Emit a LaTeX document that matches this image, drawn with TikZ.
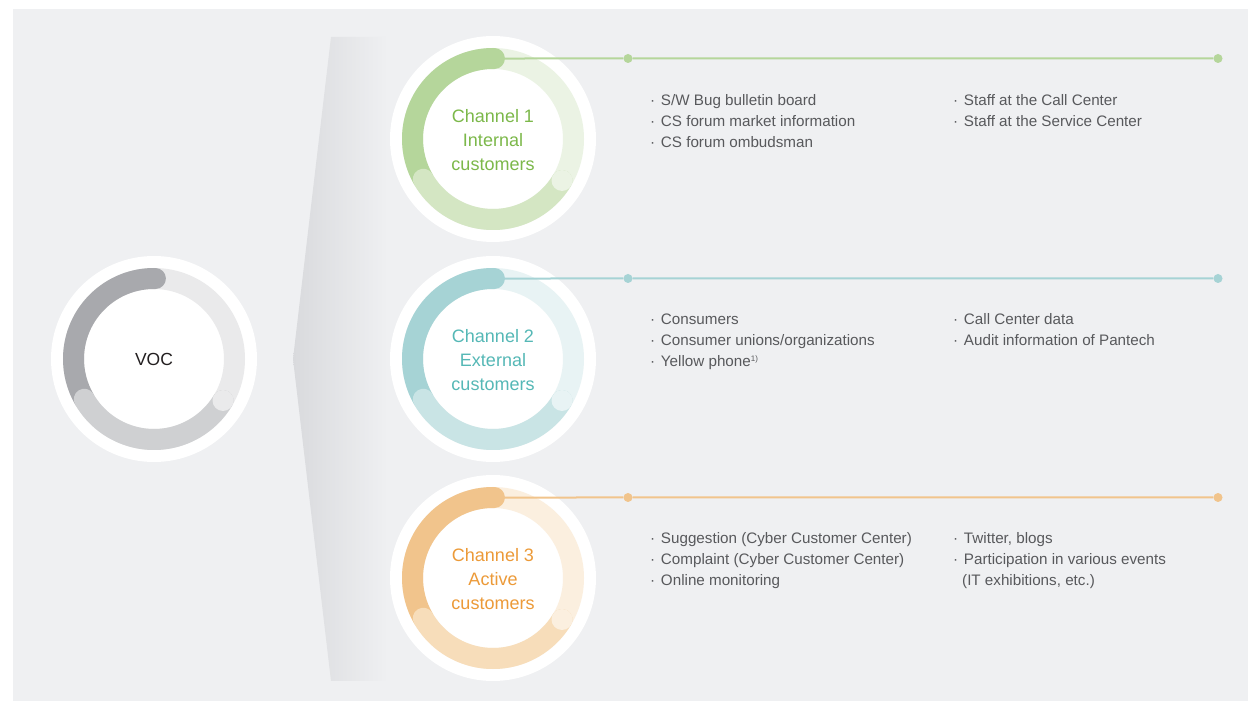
\documentclass[tikz,border=0pt]{standalone}
\usepackage{fontspec}
\setmainfont{Liberation Sans}
\usetikzlibrary{calc}

% palette
\definecolor{pagebg}{HTML}{EFF0F2}
\definecolor{wedgedark}{HTML}{D9DADD}
\definecolor{bodytext}{HTML}{58595C}
\definecolor{voctext}{HTML}{231F20}
\definecolor{vocA}{HTML}{A8A9AD}
\definecolor{vocB}{HTML}{CFD0D2}
\definecolor{vocC}{HTML}{EAEAEB}
\definecolor{grnA}{HTML}{B5D69B}
\definecolor{grnB}{HTML}{D4E6C3}
\definecolor{grnC}{HTML}{EBF3E4}
\definecolor{grnT}{HTML}{7CB84A}
\definecolor{teaA}{HTML}{A6D3D5}
\definecolor{teaB}{HTML}{C9E4E5}
\definecolor{teaC}{HTML}{E8F3F4}
\definecolor{teaT}{HTML}{55B8B6}
\definecolor{oraA}{HTML}{F1C48C}
\definecolor{oraB}{HTML}{F7DDBA}
\definecolor{oraC}{HTML}{FBEFDF}
\definecolor{oraT}{HTML}{EC9A38}

% ring made of a pale track, a dark arc and a medium arc
\newcommand\donut[4]{%
  \fill[white] (#1) circle (103);
  \draw[#4, line width=21pt] (#1) circle (80.5);
  \draw[#2, line width=21pt, line cap=round]
    ([shift={(89:80.5)}]#1) arc[start angle=89, end angle=210, radius=80.5];
  \draw[#3, line width=21pt, line cap=round]
    ([shift={(210:80.5)}]#1) arc[start angle=210, end angle=329, radius=80.5];
  \fill[#4] ([shift={(329:80.5)}]#1) circle (10.5);
}

\tikzset{
  hub/.style={inner sep=0pt, font=\fontsize{17.5}{21}\selectfont, text=voctext},
  chanlabel/.style={inner sep=0pt, align=center, font=\fontsize{18}{24}\selectfont},
  item/.style={inner sep=0pt, anchor=base west, font=\fontsize{15.2}{21}\selectfont, text=bodytext},
  leader/.style={line width=2pt},
  knot/.style={circle, inner sep=0pt, minimum size=9pt},
}

\begin{document}
\begin{tikzpicture}[x=1pt, y=1pt]
\useasboundingbox (0,0) rectangle (1248,701);
\fill[white] (0,0) rectangle (1248,701);
\fill[pagebg] (13,0) rectangle (1248,692);

% shaded funnel behind the channel rings, fading into the page
\begin{scope}
  \clip (331,664) -- (430,664) -- (430,20) -- (331,20) -- (293,342) -- cycle;
  \shade[left color=wedgedark, right color=pagebg] (293,20) rectangle (388,664);
\end{scope}

% centres
\coordinate (voc) at (154,342);
\coordinate (c1) at (493,562);
\coordinate (c2) at (493,342);
\coordinate (c3) at (493,123);

\donut{voc}{vocA}{vocB}{vocC}
\donut{c1}{grnA}{grnB}{grnC}
\donut{c2}{teaA}{teaB}{teaC}
\donut{c3}{oraA}{oraB}{oraC}

\node[hub] (vocl) at (154,342) {VOC};
\node[chanlabel, text=grnT] (l1) at (493,561) {Channel 1\\Internal\\customers};
\node[chanlabel, text=teaT] (l2) at (493,341) {Channel 2\\External\\customers};
\node[chanlabel, text=oraT] (l3) at (493,122) {Channel 3\\Active\\customers};

% leader lines from the top of each ring
\coordinate (s1) at ($(c1)+(89:80.5)$);
\coordinate (s2) at ($(c2)+(89:80.5)$);
\coordinate (s3) at ($(c3)+(89:80.5)$);
\node[knot, fill=grnA] (m1) at (628,642.5) {};
\node[knot, fill=grnA] (e1) at (1218,642.5) {};
\node[knot, fill=teaA] (m2) at (628,422.5) {};
\node[knot, fill=teaA] (e2) at (1218,422.5) {};
\node[knot, fill=oraA] (m3) at (628,203.5) {};
\node[knot, fill=oraA] (e3) at (1218,203.5) {};
\draw[leader, grnA] (s1) -- (m1) -- (e1);
\draw[leader, teaA] (s2) -- (m2) -- (e2);
\draw[leader, oraA] (s3) -- (m3) -- (e3);

% channel 1 sources
\node[item] (a11) at (650,595) {· \kern1.5pt S/W Bug bulletin board};
\node[item] (a12) at (650,574) {· \kern1.5pt CS forum market information};
\node[item] (a13) at (650,553) {· \kern1.5pt CS forum ombudsman};
\node[item] (b11) at (953,595) {· \kern1.5pt Staff at the Call Center};
\node[item] (b12) at (953,574) {· \kern1.5pt Staff at the Service Center};

% channel 2 sources
\node[item] (a21) at (650,376) {· \kern1.5pt Consumers};
\node[item] (a22) at (650,355) {· \kern1.5pt Consumer unions/organizations};
\node[item] (a23) at (650,334) {· \kern1.5pt Yellow phone\textsuperscript{\fontsize{8}{8}\selectfont 1)}};
\node[item] (b21) at (953,376) {· \kern1.5pt Call Center data};
\node[item] (b22) at (953,355) {· \kern1.5pt Audit information of Pantech};

% channel 3 sources
\node[item] (a31) at (650,157) {· \kern1.5pt Suggestion (Cyber Customer Center)};
\node[item] (a32) at (650,136) {· \kern1.5pt Complaint (Cyber Customer Center)};
\node[item] (a33) at (650,115) {· \kern1.5pt Online monitoring};
\node[item] (b31) at (953,157) {· \kern1.5pt Twitter, blogs};
\node[item] (b32) at (953,136) {· \kern1.5pt Participation in various events};
\node[item] (b33) at (962,115) {(IT exhibitions, etc.)};
\end{tikzpicture}
\end{document}
